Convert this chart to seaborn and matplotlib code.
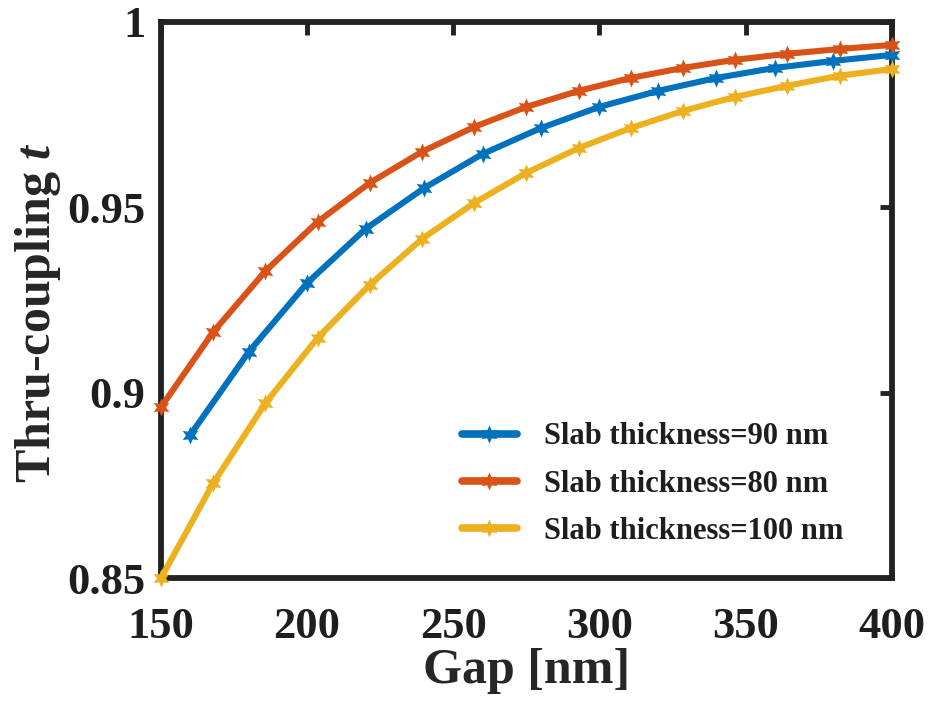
import numpy as np
import pandas as pd
import matplotlib
matplotlib.use("Agg")
import matplotlib.pyplot as plt
import seaborn as sns

# ---- data ----
gap_80 = [150.0, 167.86, 185.71, 203.57, 221.43, 239.29, 257.14, 275.0,
          292.86, 310.71, 328.57, 346.43, 364.29, 382.14, 400.0]
t_80 = [0.8961, 0.9164, 0.9328, 0.9461, 0.9566, 0.9650, 0.9717, 0.9771,
        0.9814, 0.9849, 0.9876, 0.9898, 0.9914, 0.9927, 0.9938]
gap_90 = [160, 180, 200, 220, 240, 260, 280, 300, 320, 340, 360, 380, 400]
t_90 = [0.8886, 0.9110, 0.9296, 0.9442, 0.9552, 0.9644, 0.9714, 0.9771,
        0.9814, 0.9849, 0.9876, 0.9895, 0.9911]
gap_100 = gap_80
t_100 = [0.8500, 0.8756, 0.8972, 0.9148, 0.9291, 0.9415, 0.9512, 0.9593,
         0.9660, 0.9714, 0.9760, 0.9798, 0.9828, 0.9855, 0.9873]

labels = ["Slab thickness=90 nm", "Slab thickness=80 nm", "Slab thickness=100 nm"]
colors = ["#0072BD", "#D95319", "#EDB120"]
x_ticks = [150, 200, 250, 300, 350, 400]
y_ticks = [0.85, 0.9, 0.95, 1.0]
y_ticklabels = ["0.85", "0.9", "0.95", "1"]

df = pd.concat([
    pd.DataFrame({"gap": gap_90, "t": t_90, "series": labels[0]}),
    pd.DataFrame({"gap": gap_80, "t": t_80, "series": labels[1]}),
    pd.DataFrame({"gap": gap_100, "t": t_100, "series": labels[2]}),
], ignore_index=True)

sns.set_style("white")
plt.rcParams["font.family"] = ["Liberation Serif", "DejaVu Serif"]
plt.rcParams["font.weight"] = "bold"
plt.rcParams["mathtext.fontset"] = "custom"
plt.rcParams["mathtext.bfit"] = "Liberation Serif:italic:bold"
plt.rcParams["mathtext.it"] = "Liberation Serif:italic:bold"
plt.rcParams["text.color"] = "#1e1e1e"

fig = plt.figure(figsize=(9.30, 7.07), dpi=100)
ax = fig.add_axes([0.173, 0.182, 0.786, 0.787])

star = (6, 1, 0)
sns.lineplot(data=df, x="gap", y="t", hue="series", hue_order=labels,
             palette=colors, style="series", style_order=labels,
             markers=[star, star, star], dashes=False, markersize=13,
             markeredgewidth=0, linewidth=4.4, ax=ax, sort=False,
             clip_on=False)

ax.set_xlim(150, 400)
ax.set_ylim(0.85, 1.0)
ax.set_xticks(x_ticks)
ax.set_xticklabels([str(v) for v in x_ticks])
ax.set_yticks(y_ticks)
ax.set_yticklabels(y_ticklabels)
ax.tick_params(axis="both", which="both", direction="in", length=9, width=3.5,
               top=True, right=True, labelsize=32, color="#222222",
               labelcolor="#1e1e1e")
ax.tick_params(axis="x", pad=21)
ax.tick_params(axis="y", pad=11)
for lab in ax.get_xticklabels() + ax.get_yticklabels():
    lab.set_fontweight("bold")
for sp in ax.spines.values():
    sp.set_linewidth(4.2)
    sp.set_color("#222222")
    sp.set_visible(True)
    sp.set_zorder(1)

ax.set_xlabel("Gap [nm]", fontsize=36, fontweight="bold")
ax.set_ylabel(r"Thru-coupling $\mathit{t}$", fontsize=36, fontweight="bold")
ax.xaxis.set_label_coords(0.5, -0.125)
ax.yaxis.set_label_coords(-0.134, 0.478)

leg = ax.legend(loc="upper left", bbox_to_anchor=(0.374, 0.33), frameon=False,
                fontsize=22, handlelength=1.8, handletextpad=0.9, labelspacing=0.6)
for txt in leg.get_texts():
    txt.set_fontweight("bold")
for line in leg.get_lines():
    line.set_linewidth(5.5)

fig.savefig("out.png", dpi=100)
